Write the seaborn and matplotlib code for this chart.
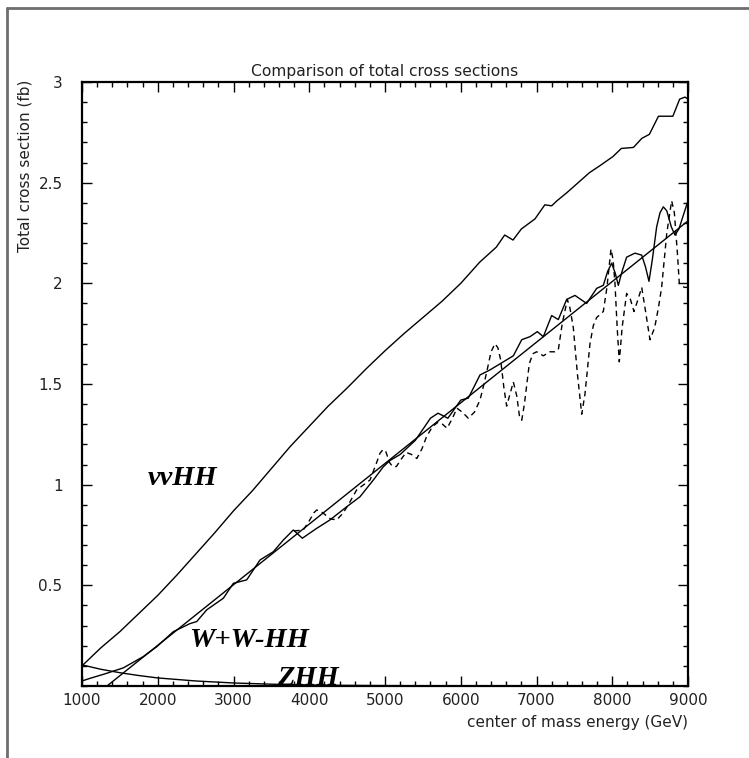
import matplotlib
matplotlib.use("Agg")
import matplotlib.pyplot as plt
from matplotlib.lines import Line2D
from matplotlib.ticker import MultipleLocator, FixedLocator
import seaborn as sns

# ---- cross-section curves (fb) vs centre-of-mass energy (GeV) ----
vvhh_e = [1000, 1250, 1500, 1750, 2000, 2250, 2500, 2750, 3000, 3250, 3500, 3750,
          4000, 4250, 4500, 4750, 5000, 5250, 5500, 5750, 6000, 6250, 6470, 6580,
          6690, 6800, 6980, 7110, 7200, 7270, 7400, 7550, 7700, 7840, 8010, 8120,
          8280, 8390, 8490, 8610, 8800, 8890, 8960, 9000]
vvhh_xs = [0.10, 0.19, 0.27, 0.36, 0.45, 0.55, 0.655, 0.76, 0.87, 0.97, 1.08, 1.19,
           1.29, 1.39, 1.48, 1.575, 1.665, 1.75, 1.83, 1.91, 2.00, 2.105, 2.18, 2.24,
           2.215, 2.27, 2.32, 2.39, 2.385, 2.41, 2.45, 2.50, 2.55, 2.585, 2.63, 2.67,
           2.675, 2.72, 2.74, 2.83, 2.83, 2.915, 2.925, 2.915]

wwhh_e = [1000, 1106, 1300, 1545, 1809, 1986, 2206, 2426, 2514, 2646, 2866, 2998,
          3174, 3350, 3526, 3658, 3790, 3909, 4098, 4274, 4494, 4670, 4846, 4978,
          5066, 5200, 5400, 5600, 5700, 5830, 6000, 6100, 6254, 6386, 6518, 6694,
          6805, 6914, 7011, 7090, 7200, 7288, 7398, 7508, 7662, 7794, 7882, 7940,
          7992, 8040, 8080, 8130, 8190, 8300, 8389, 8440, 8485, 8530, 8586, 8630,
          8674, 8720, 8780, 8828, 8880, 8940, 9000]
wwhh_xs = [0.025, 0.038, 0.06, 0.09, 0.146, 0.195, 0.27, 0.31, 0.32, 0.378, 0.436, 0.51,
           0.527, 0.626, 0.667, 0.725, 0.775, 0.734, 0.783, 0.825, 0.89, 0.94, 1.023, 1.089,
           1.12, 1.15, 1.22, 1.33, 1.355, 1.33, 1.42, 1.43, 1.545, 1.57, 1.60, 1.64,
           1.72, 1.735, 1.76, 1.735, 1.84, 1.82, 1.92, 1.94, 1.90, 1.975, 1.99, 2.06,
           2.10, 2.05, 1.99, 2.06, 2.13, 2.15, 2.14, 2.08, 2.01, 2.12, 2.28, 2.35,
           2.38, 2.36, 2.28, 2.24, 2.27, 2.34, 2.41]

wwhh_alt_e = [3800, 3921, 4000, 4060, 4098, 4140, 4186, 4280, 4362, 4450, 4538, 4626,
              4720, 4802, 4880, 4934, 4975, 5010, 5060, 5100, 5150, 5220, 5280, 5350,
              5420, 5490, 5550, 5630, 5700, 5760, 5820, 5890, 5950, 6020, 6100, 6180,
              6254, 6300, 6343, 6400, 6452, 6490, 6527, 6570, 6606, 6650, 6694, 6740,
              6775, 6805, 6840, 6905, 6950, 7002, 7090, 7178, 7240, 7288, 7340, 7407,
              7440, 7486, 7540, 7597, 7640, 7706, 7750, 7794, 7882, 7930, 7983, 8010,
              8036, 8065, 8093, 8130, 8190, 8240, 8287, 8340, 8389, 8440, 8498, 8560,
              8610, 8652, 8720, 8784, 8820, 8860, 8885, 8950, 9000]
wwhh_alt_xs = [0.77, 0.775, 0.82, 0.86, 0.874, 0.87, 0.858, 0.83, 0.825, 0.86, 0.915, 0.974,
               1.00, 1.023, 1.10, 1.156, 1.175, 1.165, 1.11, 1.09, 1.09, 1.13, 1.16, 1.15,
               1.13, 1.18, 1.24, 1.29, 1.31, 1.30, 1.28, 1.33, 1.38, 1.36, 1.33, 1.36,
               1.42, 1.49, 1.56, 1.66, 1.70, 1.68, 1.62, 1.48, 1.39, 1.45, 1.51, 1.44,
               1.34, 1.32, 1.40, 1.60, 1.65, 1.66, 1.64, 1.66, 1.66, 1.67, 1.80, 1.92,
               1.88, 1.78, 1.55, 1.35, 1.45, 1.70, 1.79, 1.83, 1.86, 1.98, 2.17, 2.12,
               2.00, 1.78, 1.61, 1.78, 1.95, 1.92, 1.86, 1.92, 1.98, 1.86, 1.72, 1.78,
               1.88, 1.98, 2.25, 2.41, 2.35, 2.15, 2.00, 1.98, 1.98]

# straight-line fit to the W+W-HH curve
fit_e = [1330, 9000]
fit_xs = [0.0, 2.31]

zhh_e = [1000, 1250, 1500, 1750, 2000, 2500, 3000, 3500, 4000, 4500, 5000, 6000,
         7000, 9000]
zhh_xs = [0.105, 0.083, 0.066, 0.052, 0.040, 0.025, 0.015, 0.009, 0.005, 0.003,
          0.002, 0.001, 0.0005, 0.0]

x_ticks = [1000, 2000, 3000, 4000, 5000, 6000, 7000, 8000, 9000]
y_ticks = [0.5, 1.0, 1.5, 2.0, 2.5, 3.0]
y_tick_labels = ["0.5", "1", "1.5", "2", "2.5", "3"]

sns.set_style("ticks")
plt.rcParams["font.family"] = ["DejaVu Sans"]

W, H = 749, 758
fig = plt.figure(figsize=(W / 100, H / 100), dpi=100)
ax = fig.add_axes([82 / W, 1 - 686 / H, (688 - 82) / W, (686 - 82) / H])

line_kw = dict(color="black", lw=1.0, sort=False, estimator=None, ax=ax)
sns.lineplot(x=vvhh_e, y=vvhh_xs, **line_kw)
sns.lineplot(x=wwhh_e, y=wwhh_xs, **line_kw)
sns.lineplot(x=fit_e, y=fit_xs, **line_kw)
sns.lineplot(x=zhh_e, y=zhh_xs, **line_kw)
sns.lineplot(x=wwhh_alt_e, y=wwhh_alt_xs, linestyle=(0, (4, 3)), **line_kw)

ax.set_xlim(1000, 9000)
ax.set_ylim(0, 3)
ax.xaxis.set_major_locator(FixedLocator(x_ticks))
ax.xaxis.set_minor_locator(MultipleLocator(200))
ax.yaxis.set_major_locator(FixedLocator(y_ticks))
ax.yaxis.set_minor_locator(MultipleLocator(0.1))
ax.set_yticklabels(y_tick_labels)
ax.tick_params(which="both", direction="in", top=True, right=True,
               labelsize=11, width=1.0, color="black", labelcolor="#222222")
ax.tick_params(which="major", length=7.5)
ax.tick_params(which="minor", length=3.8)
ax.tick_params(axis="x", which="major", pad=5)
ax.tick_params(axis="y", which="major", pad=14)
for s in ax.spines.values():
    s.set_linewidth(1.6)
    s.set_color("black")

ax.set_title("Comparison of total cross sections", fontsize=11.2, pad=4,
             color="#222222")
ax.set_xlabel("center of mass energy (GeV)", fontsize=11, loc="right", labelpad=5,
              color="#222222")
fig.text(25 / W, 1 - 80 / H, "Total cross section (fb)", rotation=90,
         ha="center", va="top", fontsize=11, color="#222222")

lab_kw = dict(fontfamily="Liberation Serif", fontstyle="italic", fontweight="bold",
              fontsize=20.5, color="black", ha="center", va="baseline")
ax.text(2327, 1.0, "vvHH", **lab_kw)
ax.text(3205, 0.195, "W+W-HH", **lab_kw)
ax.text(3983, 0.005, "ZHH", **lab_kw)

# page frame
frame_kw = dict(color="#6e6e6e", lw=2.0, transform=fig.transFigure)
fig.add_artist(Line2D([7 / W, 1.0], [1 - 8 / H, 1 - 8 / H], **frame_kw))
fig.add_artist(Line2D([7 / W, 7 / W], [1 - 8 / H, 0.0], **frame_kw))

fig.savefig("out.png", dpi=100)
